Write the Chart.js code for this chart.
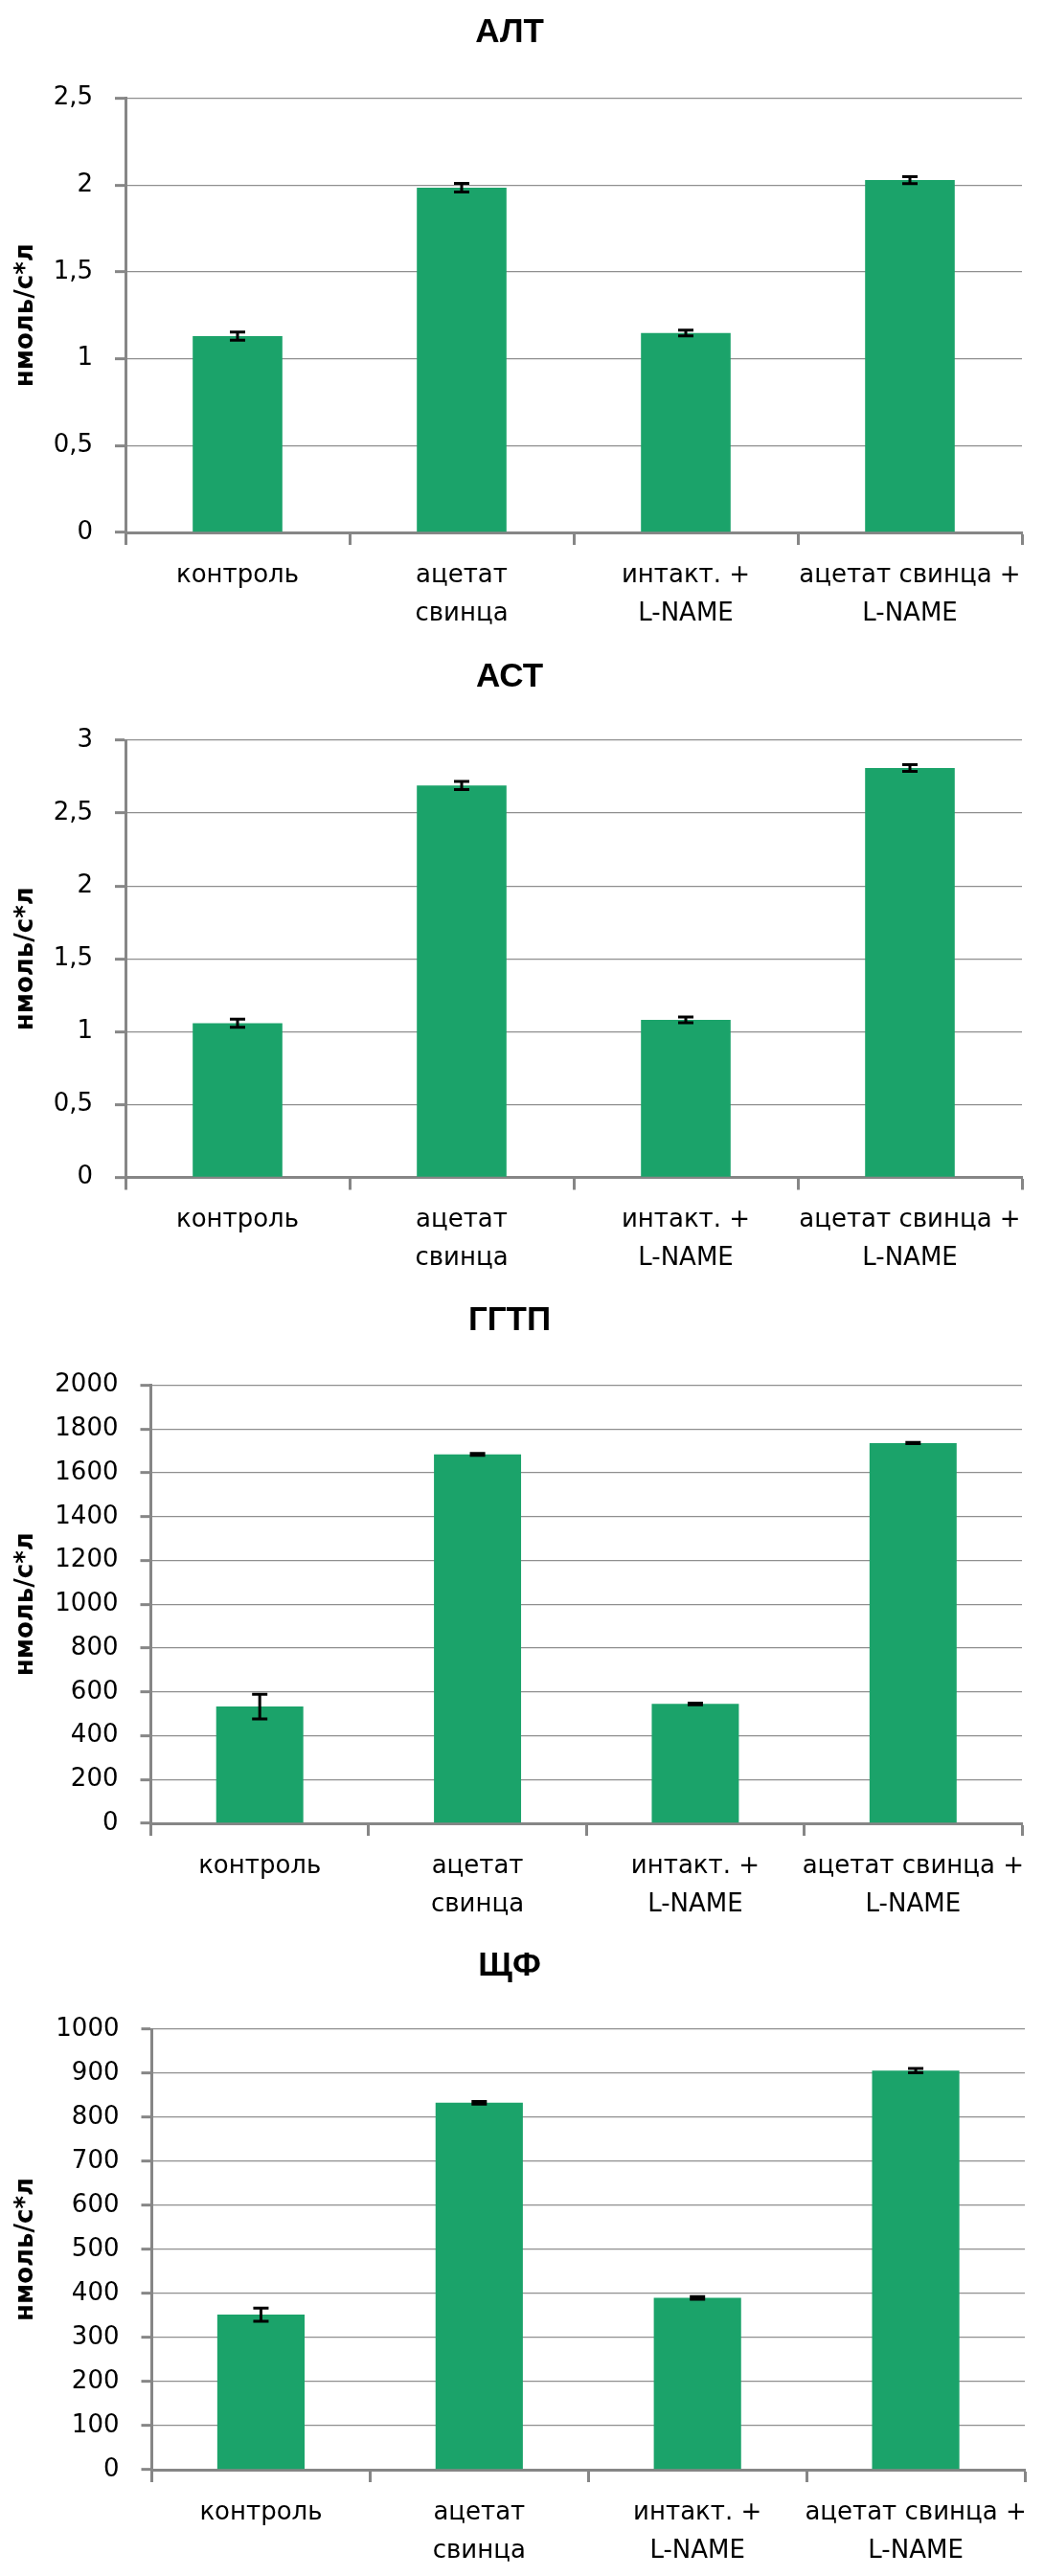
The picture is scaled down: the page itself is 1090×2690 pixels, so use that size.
<!DOCTYPE html>
<html>
<head>
<meta charset="utf-8">
<script src="https://cdn.jsdelivr.net/npm/chart.js@4.4.0/dist/chart.umd.min.js"></script>
<style>
  body { margin: 0; background: #fff; width: 1090px; height: 2690px; position: relative; overflow: hidden; }
  canvas { position: absolute; left: 0; }
</style>
</head>
<body>
<canvas id="alt" width="1090" height="673" style="top:0px"></canvas>
<canvas id="ast" width="1090" height="673" style="top:672px"></canvas>
<canvas id="ggtp" width="1090" height="673" style="top:1344px"></canvas>
<canvas id="shf" width="1090" height="673" style="top:2017px"></canvas>
<script>
// categories (multi-line labels)
const categories = [
  ["контроль"],
  ["ацетат", "свинца"],
  ["интакт. +", "L-NAME"],
  ["ацетат свинца +", "L-NAME"]
];

// АЛТ
const altValues = [1.13, 1.985, 1.148, 2.028];
const altErrors = [0.024, 0.025, 0.016, 0.02];
const altTicks = ["0", "0,5", "1", "1,5", "2", "2,5"];

// АСТ
const astValues = [1.058, 2.689, 1.081, 2.809];
const astErrors = [0.028, 0.028, 0.02, 0.023];
const astTicks = ["0", "0,5", "1", "1,5", "2", "2,5", "3"];

// ГГТП
const ggtpValues = [533, 1684, 545, 1736];
const ggtpErrors = [56, 4, 4, 3];
const ggtpTicks = ["0", "200", "400", "600", "800", "1000", "1200", "1400", "1600", "1800", "2000"];

// ЩФ
const shfValues = [352, 833, 390, 906];
const shfErrors = [15, 3, 3, 5];
const shfTicks = ["0", "100", "200", "300", "400", "500", "600", "700", "800", "900", "1000"];

const barColor = "#1ba36a";
const axisColor = "#868686";
const gridColor = "#8f8f8f";
const H = 673;

// chart title drawn by hand so it can sit left of canvas centre like the original
const heading = {
  id: "heading",
  afterDraw(chart, args, opts) {
    const ctx = chart.ctx;
    ctx.save();
    ctx.font = "bold 35px 'Liberation Sans'";
    ctx.fillStyle = "#000";
    ctx.textAlign = "center";
    ctx.textBaseline = "middle";
    ctx.fillText(opts.text, 532, opts.y);
    ctx.restore();
  }
};

const errorBars = {
  id: "errorBars",
  afterDatasetsDraw(chart) {
    const ctx = chart.ctx;
    const ds = chart.data.datasets[0];
    const yScale = chart.scales.y;
    ctx.save();
    ctx.strokeStyle = "#000";
    ctx.lineWidth = 3;
    chart.getDatasetMeta(0).data.forEach((bar, i) => {
      const top = yScale.getPixelForValue(ds.data[i] + ds.errors[i]);
      const bot = yScale.getPixelForValue(ds.data[i] - ds.errors[i]);
      ctx.beginPath();
      ctx.moveTo(bar.x, top);
      ctx.lineTo(bar.x, bot);
      ctx.moveTo(bar.x - 8, top);
      ctx.lineTo(bar.x + 8, top);
      ctx.moveTo(bar.x - 8, bot);
      ctx.lineTo(bar.x + 8, bot);
      ctx.stroke();
    });
    ctx.restore();
  }
};

function makeChart(id, title, values, errors, max, step, tickLabels, box) {
  return new Chart(document.getElementById(id), {
    type: "bar",
    data: {
      labels: categories,
      datasets: [{
        data: values,
        errors: errors,
        backgroundColor: barColor,
        barPercentage: 0.4,
        categoryPercentage: 1
      }]
    },
    options: {
      responsive: false,
      animation: false,
      layout: { padding: { top: box.top, right: 1090 - box.right, bottom: 0, left: 0 } },
      plugins: {
        legend: { display: false },
        tooltip: { enabled: false },
        heading: { text: title, y: box.title }
      },
      scales: {
        x: {
          grid: {
            offset: true,
            drawOnChartArea: false,
            tickLength: 13,
            tickWidth: 3,
            tickColor: axisColor
          },
          border: { color: axisColor, width: 3 },
          ticks: {
            color: "#000",
            font: { family: "DejaVu Sans", size: 26, lineHeight: 1.54 },
            padding: 12,
            maxRotation: 0,
            autoSkip: false
          },
          afterFit: (s) => {
            s.height = H - box.bottom;
            s.paddingLeft = 0;
            s.paddingRight = 0;
          }
        },
        y: {
          min: 0,
          max: max,
          ticks: {
            stepSize: step,
            color: "#000",
            font: { family: "DejaVu Sans", size: 26 },
            padding: 23,
            callback: (v, i) => tickLabels[i]
          },
          grid: {
            color: gridColor,
            lineWidth: 1.3,
            tickLength: 11,
            tickWidth: 3,
            tickColor: axisColor
          },
          border: { color: axisColor, width: 3 },
          title: {
            display: true,
            text: "нмоль/с*л",
            color: "#000",
            font: { family: "DejaVu Sans", size: 26, weight: "bold" },
            padding: { top: 12, bottom: 0 }
          },
          afterFit: (s) => {
            s.width = box.axis;
            s.paddingTop = 0;
            s.paddingBottom = 0;
          }
        }
      }
    },
    plugins: [heading, errorBars]
  });
}

makeChart("alt", "АЛТ", altValues, altErrors, 2.5, 0.5, altTicks,
  { title: 34, top: 102.5, bottom: 556, axis: 131, right: 1067 });
makeChart("ast", "АСТ", astValues, astErrors, 3, 0.5, astTicks,
  { title: 35, top: 101, bottom: 557.5, axis: 131, right: 1067 });
makeChart("ggtp", "ГГТП", ggtpValues, ggtpErrors, 2000, 200, ggtpTicks,
  { title: 35, top: 102.5, bottom: 560, axis: 157.5, right: 1067 });
makeChart("shf", "ЩФ", shfValues, shfErrors, 1000, 100, shfTicks,
  { title: 36, top: 102, bottom: 562, axis: 158.5, right: 1070 });
</script>
</body>
</html>
